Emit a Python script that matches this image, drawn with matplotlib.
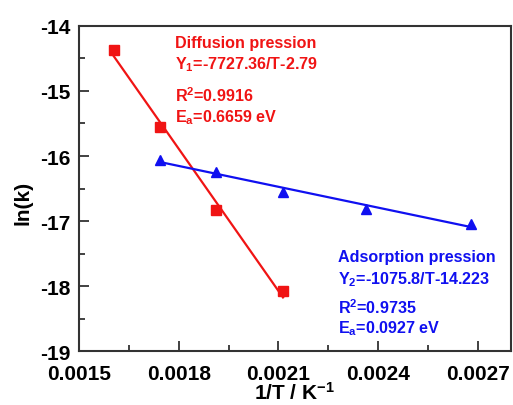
import numpy as np
import matplotlib
matplotlib.use("Agg")
import matplotlib.pyplot as plt
from matplotlib.ticker import MultipleLocator

plt.rcParams['font.family'] = ['Liberation Sans', 'DejaVu Sans']
plt.rcParams['font.weight'] = 'bold'
plt.rcParams['mathtext.fontset'] = 'custom'
plt.rcParams['mathtext.bf'] = 'Liberation Sans:bold'
plt.rcParams['mathtext.rm'] = 'Liberation Sans:bold'
plt.rcParams['mathtext.it'] = 'Liberation Sans:bold'
plt.rcParams['mathtext.default'] = 'bf'
plt.rcParams['axes.unicode_minus'] = False

# Data
x_diff = [0.001605, 0.001745, 0.001912, 0.002114]
y_diff = [-14.365, -15.56, -16.83, -18.08]
x_ads = [0.001745, 0.001912, 0.002114, 0.002364, 0.002681]
y_ads = [-16.065, -16.24, -16.55, -16.81, -17.04]

diff_text = ["Diffusion pression", "Y$_1$=-7727.36/T-2.79", "R$^2$=0.9916", "E$_a$=0.6659 eV"]
ads_text = ["Adsorption pression", "Y$_2$=-1075.8/T-14.223", "R$^2$=0.9735", "E$_a$=0.0927 eV"]

red = '#f01414'
blue = '#1010f0'

fig = plt.figure(figsize=(5.13, 4.06), dpi=100)
ax = fig.add_axes([0.154, 0.133, 0.842, 0.8005])

# fit lines
for xs, ys, c in [(x_diff, y_diff, red), (x_ads, y_ads, blue)]:
    p = np.polyfit(xs, ys, 1)
    xx = np.array([min(xs), max(xs)])
    ax.plot(xx, np.polyval(p, xx), color=c, lw=1.6, zorder=2)

ax.plot(x_diff, y_diff, 's', color=red, ms=6.5, zorder=3)
ax.plot(x_ads, y_ads, '^', color=blue, ms=7.5, zorder=3)

ax.set_xlim(0.0015, 0.0028)
ax.set_ylim(-19, -14)
ax.xaxis.set_major_locator(MultipleLocator(0.0003))
ax.xaxis.set_minor_locator(MultipleLocator(0.00015))
ax.yaxis.set_major_locator(MultipleLocator(1))
ax.yaxis.set_minor_locator(MultipleLocator(0.5))
ax.set_xticks([0.0015, 0.0018, 0.0021, 0.0024, 0.0027])
ax.set_xticklabels(['0.0015', '0.0018', '0.0021', '0.0024', '0.0027'])

ax.tick_params(which='both', direction='in', top=False, right=False,
               labelsize=15, width=1.3, color='#333333')
ax.tick_params(which='major', length=7)
ax.tick_params(which='minor', length=4.5)
ax.tick_params(axis='x', which='major', pad=9)
ax.tick_params(axis='y', which='major', pad=6)
for lab in ax.get_xticklabels() + ax.get_yticklabels():
    lab.set_fontweight('bold')
for s in ax.spines.values():
    s.set_linewidth(1.5)
    s.set_color('#333333')

ax.set_xlabel("1/T / K$^{-1}$", fontsize=15, fontweight='bold', labelpad=-1)
ax.set_ylabel("ln(k)", fontsize=15, fontweight='bold')
ax.yaxis.set_label_coords(-0.108, 0.458)

# annotations (in axes-fraction coordinates)
ys_d = [0.95, 0.885, 0.79, 0.72]
for t, yy in zip(diff_text, ys_d):
    ax.text(0.223, yy, t, transform=ax.transAxes, color=red, fontsize=11.6,
            fontweight='bold', va='center', ha='left')
ys_a = [0.29, 0.222, 0.135, 0.073]
for t, yy in zip(ads_text, ys_a):
    ax.text(0.60, yy, t, transform=ax.transAxes, color=blue, fontsize=11.6,
            fontweight='bold', va='center', ha='left')

fig.savefig("out.png", dpi=100)
